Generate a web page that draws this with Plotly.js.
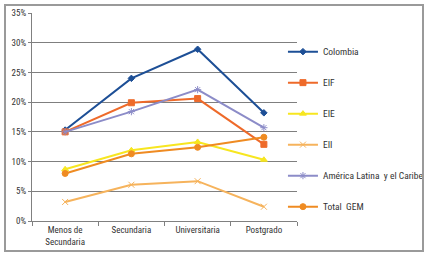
<!DOCTYPE html>
<html>
<head>
<meta charset="utf-8">
<script src="https://cdn.plot.ly/plotly-3.0.1.min.js"></script>
<style>
  html, body { margin: 0; padding: 0; background: #fff; }
  #wrap { position: relative; width: 425px; height: 255px; }
  #chart { width: 425px; height: 255px; }
  #frame { position: absolute; left: 4px; top: 4px; width: 416px; height: 244px;
           border: 2px solid #9a9a9a; pointer-events: none; }
</style>
</head>
<body>
<div id="wrap">
  <div id="chart"></div>
  <div id="frame"></div>
</div>
<script>
// Nivel educativo (eje X)
const categories = ['Menos de<br>Secundaria', 'Secundaria', 'Universitaria', 'Postgrado'];

// Porcentajes por grupo
const colombia  = [15.3, 24.0, 28.9, 18.2];
const eif       = [15.0, 19.9, 20.6, 12.9];
const eie       = [8.7, 11.9, 13.3, 10.3];
const eii       = [3.2, 6.1, 6.7, 2.4];
const alc       = [15.0, 18.4, 22.1, 15.7];
const totalGem  = [8.0, 11.3, 12.4, 14.1];

const yTicks = [0, 5, 10, 15, 20, 25, 30, 35];

const FONT = '"Liberation Sans Narrow", "Arial Narrow", "Roboto Condensed", sans-serif';

function serie(name, values, color, symbol, size, group) {
  return {
    type: 'scatter', mode: 'lines+markers', name: name,
    x: categories, y: values, legendgroup: group,
    line: { color: color, width: 2 },
    marker: { color: color, symbol: symbol, size: size,
              line: { color: color, width: 1 } }
  };
}

const data = [
  serie('Colombia', colombia, '#1d4f96', 'diamond', 5, 'g1'),
  serie('EIF', eif, '#ee6a2a', 'square', 6, 'g2'),
  serie('EIE', eie, '#f7e620', 'triangle-up', 6, 'g3'),
  serie('EII', eii, '#f6b35c', 'x-thin-open', 6, 'g4'),
  serie('América Latina\u00a0\u00a0y el Caribe', alc, '#8c8cc8', 'asterisk-open', 6, 'g5'),
  serie('Total\u00a0\u00a0GEM', totalGem, '#ef8b22', 'circle', 6, 'g6')
];

const layout = {
  width: 425, height: 255,
  margin: { l: 32, r: 128, t: 13, b: 34, autoexpand: false },
  paper_bgcolor: '#fff', plot_bgcolor: '#fff',
  font: { family: FONT, size: 9, color: '#333' },
  showlegend: true,
  legend: {
    x: 0.947, xanchor: 'left', y: 0.884, yanchor: 'top',
    tracegroupgap: 12, font: { family: FONT, size: 9.5, color: '#333' },
    bgcolor: 'rgba(0,0,0,0)'
  },
  xaxis: {
    type: 'category', tickson: 'boundaries', ticks: 'outside', ticklen: 4,
    tickcolor: '#808080', showgrid: false, showline: true,
    linecolor: '#808080', linewidth: 1, range: [-0.5, 3.5],
    tickfont: { family: FONT, size: 9, color: '#333' }, fixedrange: true
  },
  yaxis: {
    range: [0, 35], tickvals: yTicks, ticktext: yTicks.map(v => v + '%'),
    ticks: 'outside', ticklen: 3, tickcolor: '#808080',
    showgrid: true, gridcolor: '#7f7f7f', gridwidth: 1,
    showline: true, linecolor: '#808080', linewidth: 1, zeroline: false,
    tickfont: { family: FONT, size: 9, color: '#333' }, fixedrange: true
  }
};

Plotly.newPlot('chart', data, layout, { displayModeBar: false, staticPlot: true });
</script>
</body>
</html>
